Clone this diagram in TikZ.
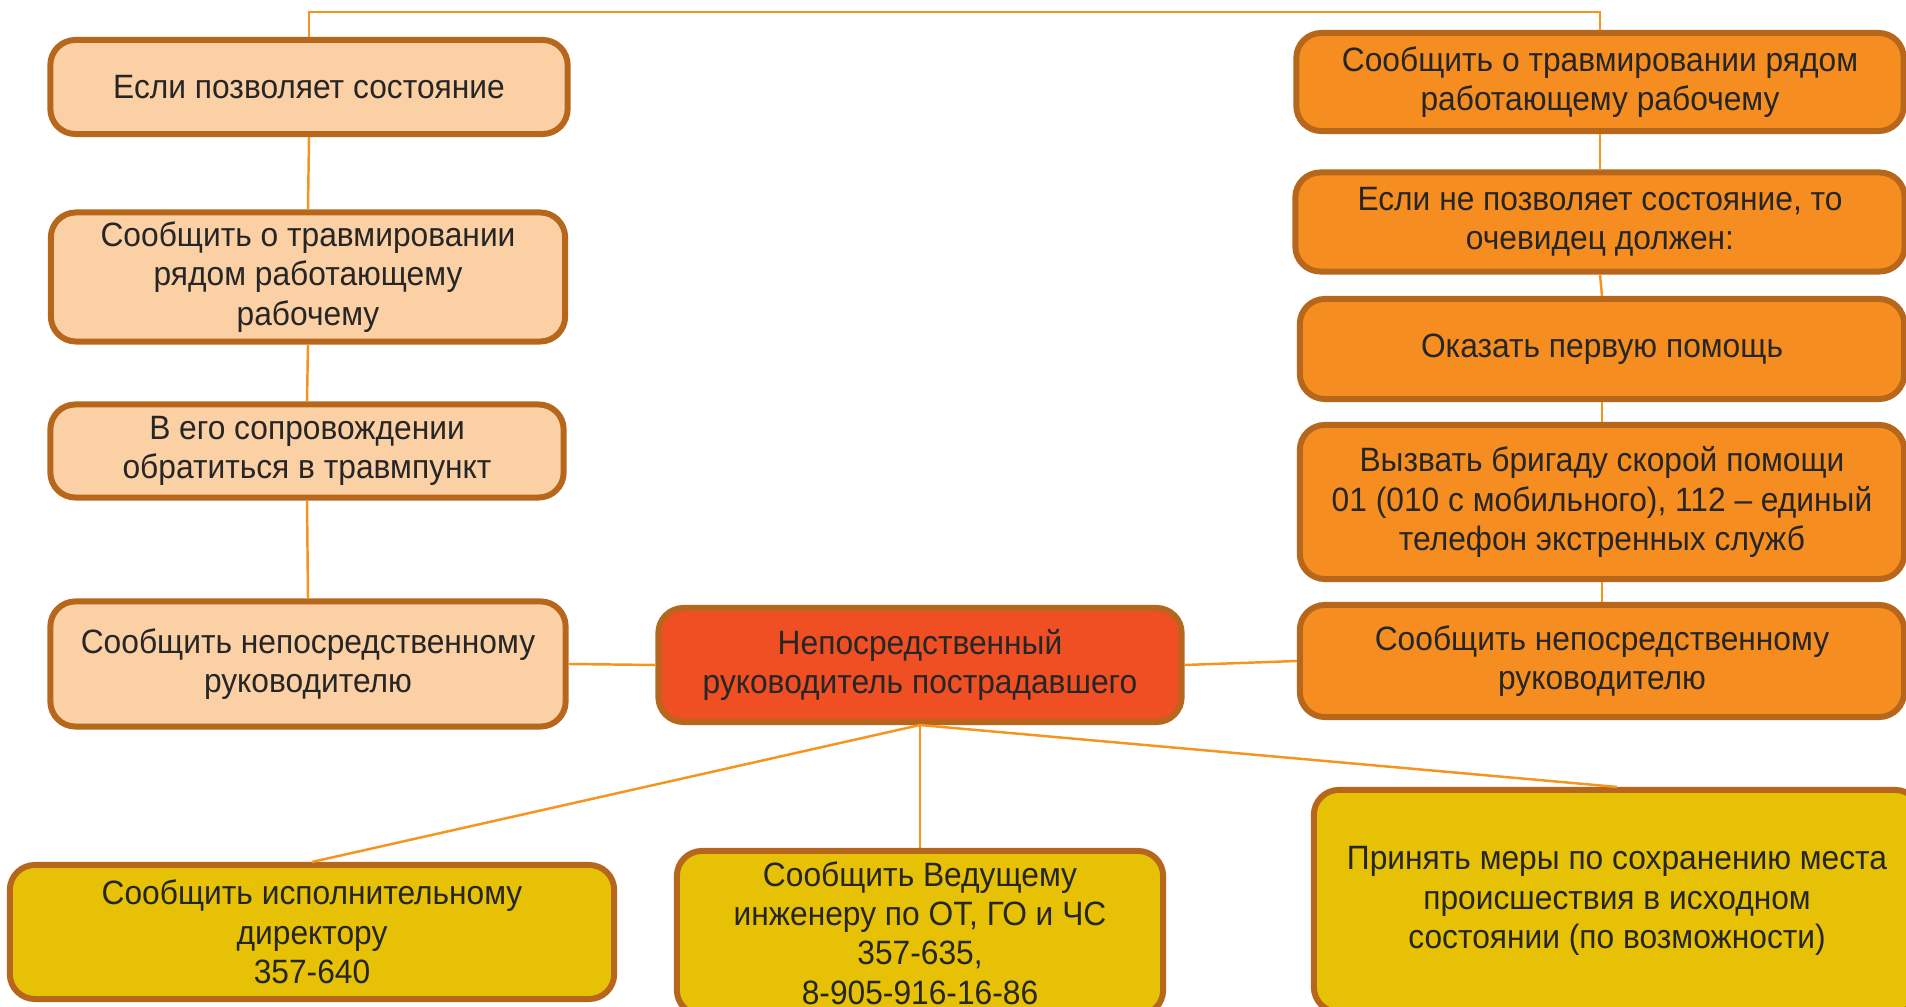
\documentclass[tikz,border=0pt]{standalone}
\usepackage{fontspec}
\setmainfont{Liberation Sans}[FakeStretch=0.94]
\definecolor{peach}{RGB}{251,208,165}
\definecolor{orng}{RGB}{245,141,32}
\definecolor{chiefred}{RGB}{240,78,35}
\definecolor{yell}{RGB}{230,193,5}
\definecolor{edge}{RGB}{183,103,27}
\definecolor{wire}{RGB}{247,148,29}
\definecolor{ink}{RGB}{38,38,38}

\begin{document}
\begin{tikzpicture}[x=0.01cm, y=0.01cm]
\tikzstyle{box}=[draw=edge, line width=1.7pt, rounded corners=0.25cm, align=center, inner sep=0pt, text=ink, font=\fontsize{9.6}{11.2}\selectfont]
\tikzstyle{link}=[draw=wire, line width=0.7pt]
\clip (0,0) rectangle (1906,-1007);
\fill[white] (0,0) rectangle (1906,-1007);

% left column
\node[box, fill=peach, minimum width=5.17cm, minimum height=0.94cm] (ifok) at (309,-87) {Если позволяет состояние};
\node[box, fill=peach, minimum width=5.14cm, minimum height=1.29cm] (tellL1) at (308,-277) {Сообщить о травмировании\\рядом работающему\\рабочему};
\node[box, fill=peach, minimum width=5.13cm, minimum height=0.93cm] (escort) at (307,-451) {В его сопровождении\\обратиться в травмпункт};
\node[box, fill=peach, minimum width=5.15cm, minimum height=1.25cm] (bossL) at (308,-664) {Сообщить непосредственному\\руководителю};

% center
\node[box, fill=chiefred, minimum width=5.23cm, minimum height=1.14cm] (chief) at (920,-665) {Непосредственный\\руководитель пострадавшего};

% right column
\node[box, fill=orng, minimum width=6.07cm, minimum height=0.98cm] (tellR1) at (1600,-82) {Сообщить о травмировании рядом\\работающему рабочему};
\node[box, fill=orng, minimum width=6.09cm, minimum height=0.99cm] (notok) at (1600,-222) {Если не позволяет состояние, то\\очевидец должен:};
\node[box, fill=orng, minimum width=6.04cm, minimum height=1.00cm] (firstaid) at (1602,-349) {Оказать первую помощь};
\node[box, fill=orng, minimum width=6.04cm, minimum height=1.54cm] (ambul) at (1602,-502) {Вызвать бригаду скорой помощи\\01 (010 с мобильного), 112 – единый\\телефон экстренных служб};
\node[box, fill=orng, minimum width=6.04cm, minimum height=1.12cm] (bossR) at (1602,-661) {Сообщить непосредственному\\руководителю};

% bottom row
\node[box, fill=yell, minimum width=6.04cm, minimum height=1.34cm] (exec) at (312,-932) {Сообщить исполнительному\\директору\\357-640};
\node[box, fill=yell, minimum width=4.86cm, minimum height=1.64cm] (safety) at (920,-933) {Сообщить Ведущему\\инженеру по ОТ, ГО и ЧС\\357-635,\\8-905-916-16-86};
\node[box, fill=yell, minimum width=6.06cm, minimum height=2.22cm] (scene) at (1617,-901) {Принять меры по сохранению места\\происшествия в исходном\\состоянии (по возможности)};

% connectors
\coordinate (top) at (309,-12);
\draw[link] (ifok.north) -- (top) -| (tellR1.north);
\draw[link] (ifok.south) -- (tellL1.north);
\draw[link] (tellL1.south) -- (escort.north);
\draw[link] (escort.south) -- (bossL.north);
\draw[link] (bossL.east) -- (chief.west);
\draw[link] (chief.east) -- (bossR.west);
\draw[link] (tellR1.south) -- (notok.north);
\draw[link] (notok.south) -- (firstaid.north);
\draw[link] (firstaid.south) -- (ambul.north);
\draw[link] (ambul.south) -- (bossR.north);
\draw[link] (chief.south) -- (exec.north);
\draw[link] (chief.south) -- (safety.north);
\draw[link] (chief.south) -- (scene.north);
\end{tikzpicture}
\end{document}
